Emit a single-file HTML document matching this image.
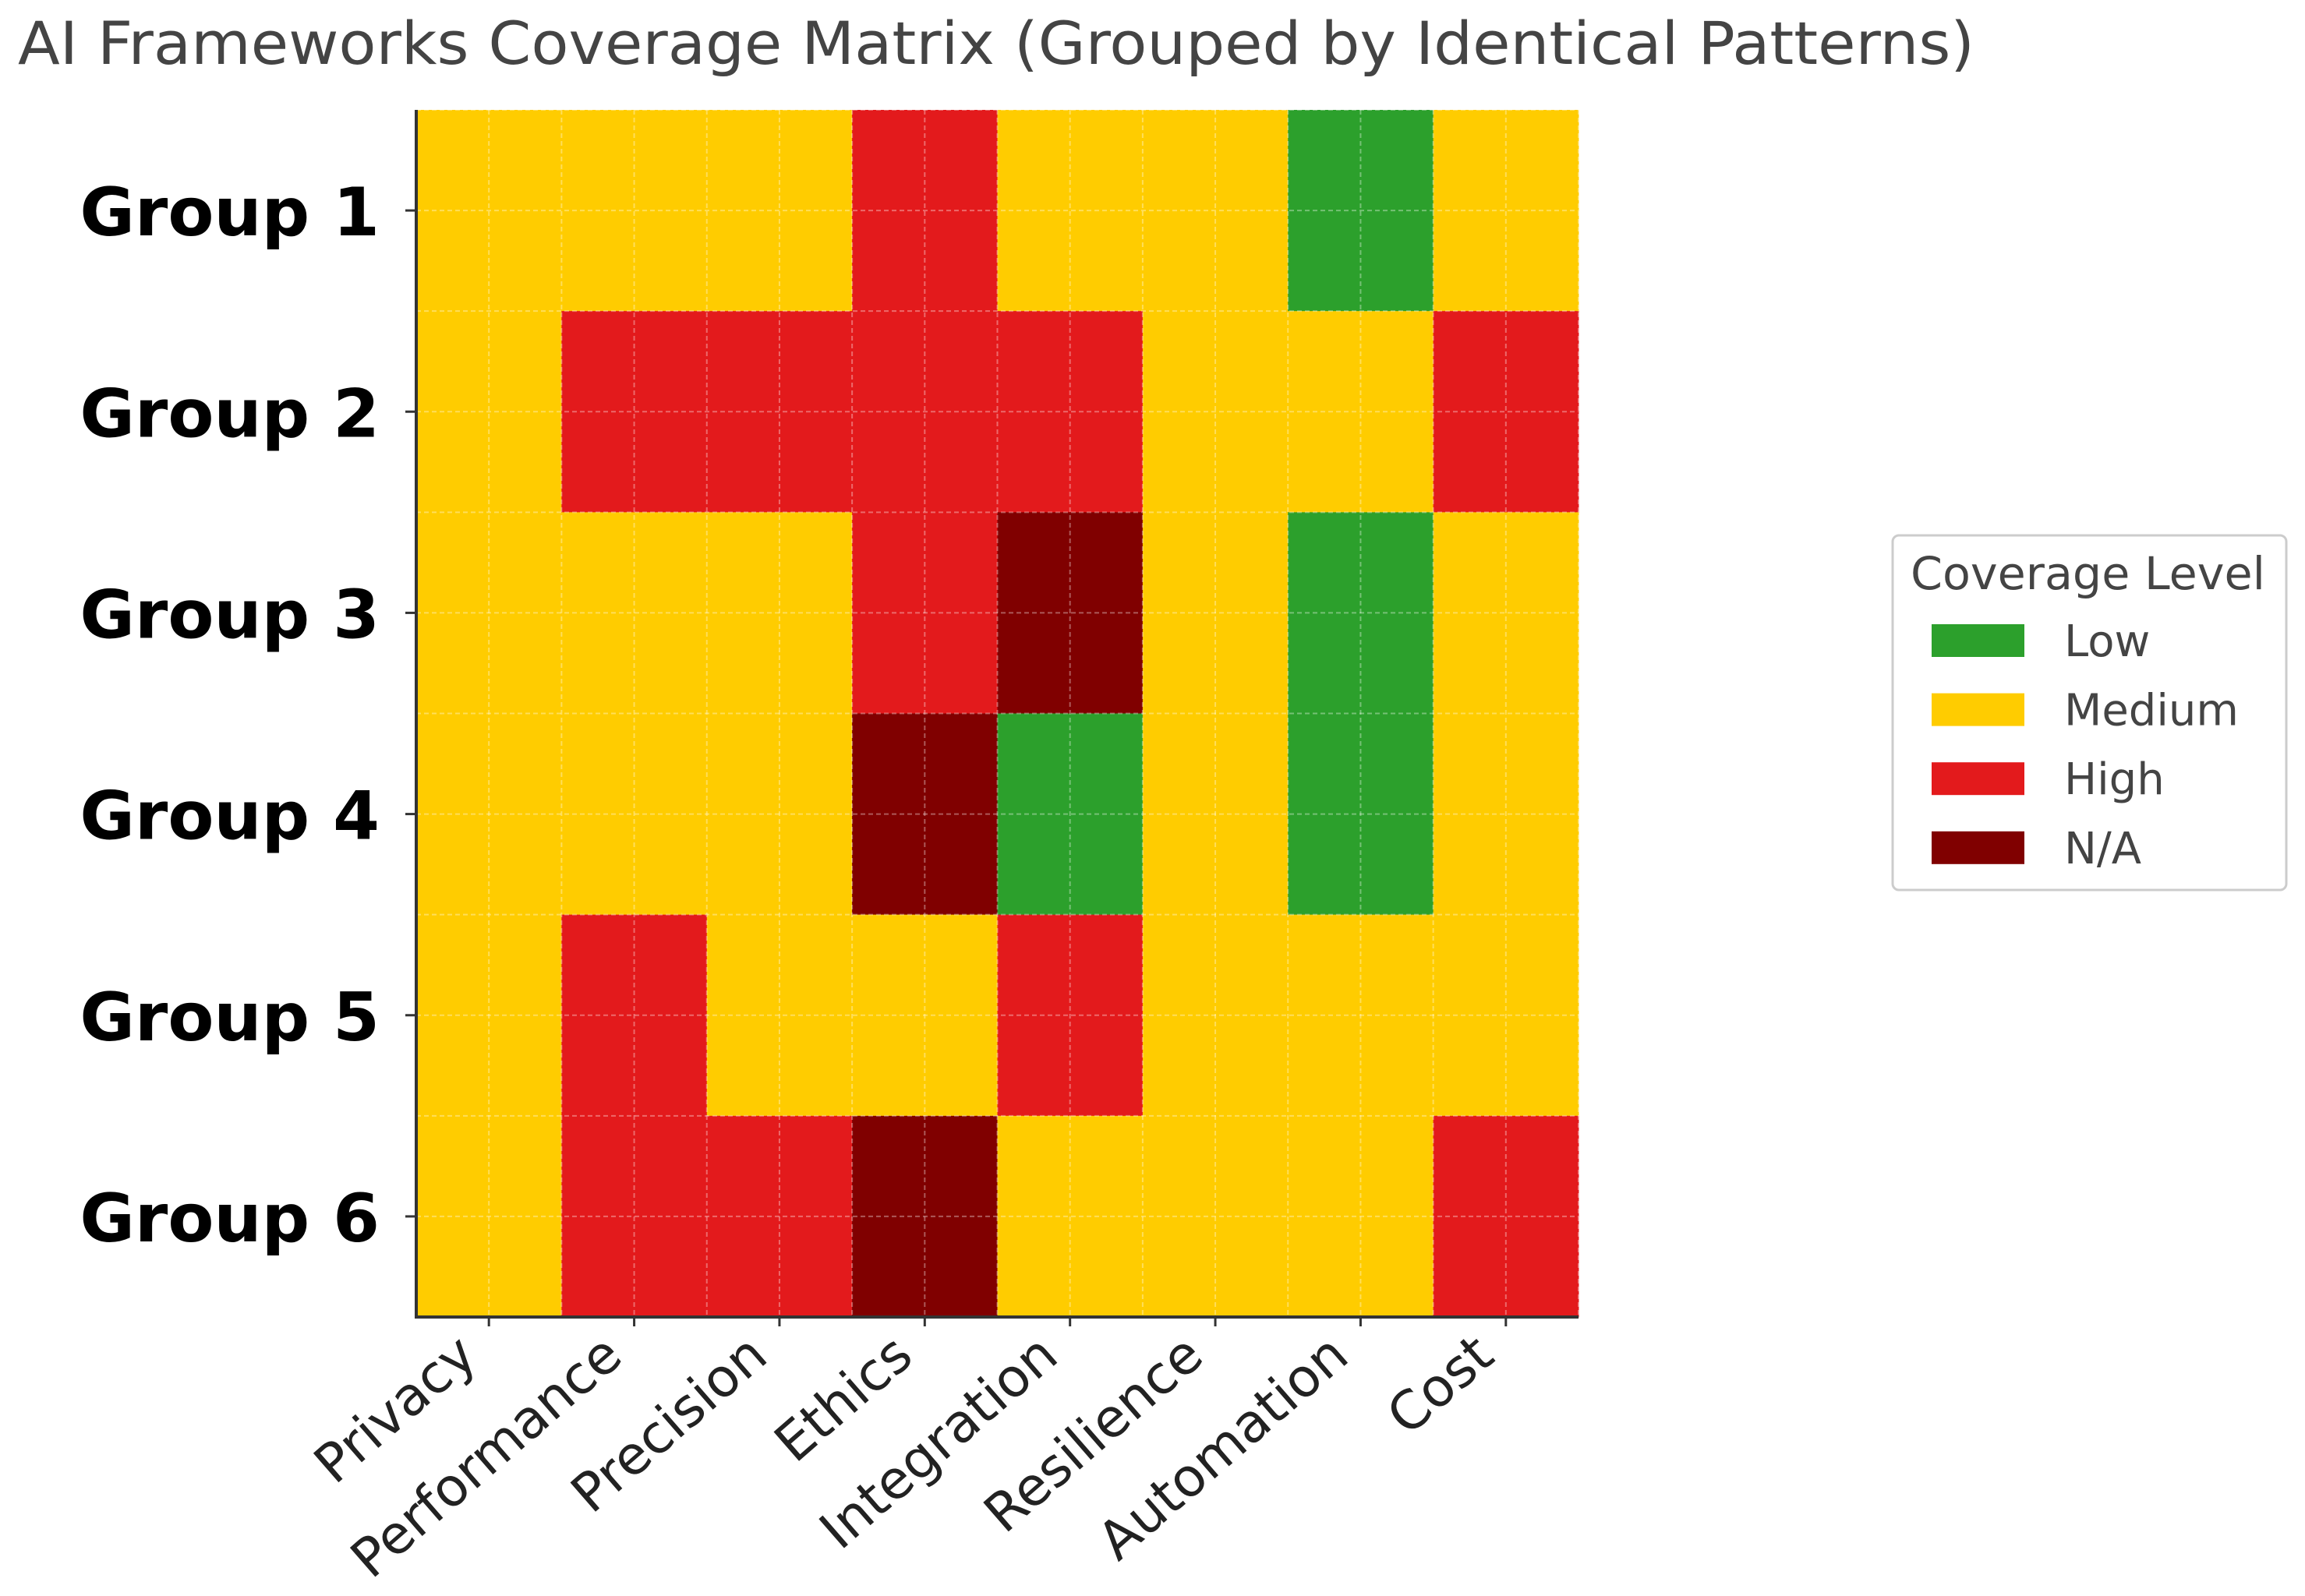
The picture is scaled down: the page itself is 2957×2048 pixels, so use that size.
<!DOCTYPE html>
<html><head><meta charset="utf-8"><style>
html,body{margin:0;padding:0;background:#fff;}
svg{display:block;font-family:"DejaVu Sans","Liberation Sans",sans-serif;}
</style></head><body>
<svg id="chart" width="2957" height="2048" viewBox="0 0 2957 2048">
<text x="23" y="82" font-size="76" fill="#444" textLength="2510" lengthAdjust="spacingAndGlyphs">AI Frameworks Coverage Matrix (Grouped by Identical Patterns)</text>
<g id="cells"></g>
<g id="grid"></g>
<g id="axes"></g>
<g>
<rect x="2428" y="687" width="505" height="455" rx="8" fill="#fff" stroke="#ccc" stroke-width="3"/>
<text x="2451" y="756" font-size="58" fill="#444" textLength="455" lengthAdjust="spacingAndGlyphs">Coverage Level</text>
<g id="legend-items"></g>
</g>
</svg>
<script>
const categories = ["Privacy","Performance","Precision","Ethics","Integration","Resilience","Automation","Cost"];
const groups = ["Group 1","Group 2","Group 3","Group 4","Group 5","Group 6"];
const levelNames = ["Low","Medium","High","N/A"];
const levelColors = ["#2ca02c","#ffcc00","#e31a1c","#800000"];
// 0=Low 1=Medium 2=High 3=N/A
const row1 = [1,1,1,2,1,1,0,1];
const row2 = [1,2,2,2,2,1,1,2];
const row3 = [1,1,1,2,3,1,0,1];
const row4 = [1,1,1,3,0,1,0,1];
const row5 = [1,2,1,1,2,1,1,1];
const row6 = [1,2,2,3,1,1,1,2];
const matrix = [row1,row2,row3,row4,row5,row6];

const NS="http://www.w3.org/2000/svg";
const L=534,R=2025,T=141,B=1690;
const cw=(R-L)/categories.length, rh=(B-T)/groups.length;
const xPos=i=>L+i*cw, yPos=j=>T+j*rh;
function mk(tag,attrs,parent){const e=document.createElementNS(NS,tag);for(const k in attrs)e.setAttribute(k,attrs[k]);parent.appendChild(e);return e;}
const cells=document.getElementById('cells');
matrix.forEach((row,j)=>row.forEach((v,i)=>{
  const r=mk('rect',{x:xPos(i),y:yPos(j),width:cw+0.5,height:rh+0.5,fill:levelColors[v]},cells);
  
  
}));
const grid=document.getElementById('grid');
for(let k=0;k<=categories.length*2;k++){const x=L+k*cw/2;mk('line',{x1:x,y1:T,x2:x,y2:B,stroke:'#fff','stroke-opacity':0.35,'stroke-width':2,'stroke-dasharray':'6 4'},grid);}
for(let k=0;k<=groups.length*2;k++){const y=T+k*rh/2;mk('line',{x1:L,y1:y,x2:R,y2:y,stroke:'#fff','stroke-opacity':0.35,'stroke-width':2,'stroke-dasharray':'6 4'},grid);}
const axes=document.getElementById('axes');
mk('line',{x1:L,y1:T,x2:L,y2:B+2,stroke:'#333','stroke-width':4},axes);
mk('line',{x1:L-2,y1:B,x2:R,y2:B,stroke:'#333','stroke-width':4},axes);
groups.forEach((g,j)=>{
  const y=yPos(j)+rh/2;
  mk('line',{x1:L-14,y1:y,x2:L,y2:y,stroke:'#333','stroke-width':3},axes);
  const t=mk('text',{x:487,y:y+32,'text-anchor':'end','font-size':86,'font-weight':'bold',fill:'#000'},axes);
  t.textContent=g;
  
  
});
categories.forEach((c,i)=>{
  const x=xPos(i)+cw/2;
  mk('line',{x1:x,y1:B,x2:x,y2:B+12,stroke:'#333','stroke-width':3},axes);
  const ax=x-12, ay=1745;
  const t=mk('text',{x:ax,y:ay,'text-anchor':'end','font-size':68,fill:'#222',transform:`rotate(-41 ${ax} ${ay})`},axes);
  t.textContent=c;
  
  
});
const li=document.getElementById('legend-items');
levelNames.forEach((n,k)=>{
  const y=801+k*88.6;
  const r=mk('rect',{x:2478,y:y,width:119,height:42,fill:levelColors[k]},li);
  
  
  const t=mk('text',{x:2648,y:y+41,'font-size':56,fill:'#444'},li);
  t.textContent=n;
  
  
});
</script>
</body></html>
